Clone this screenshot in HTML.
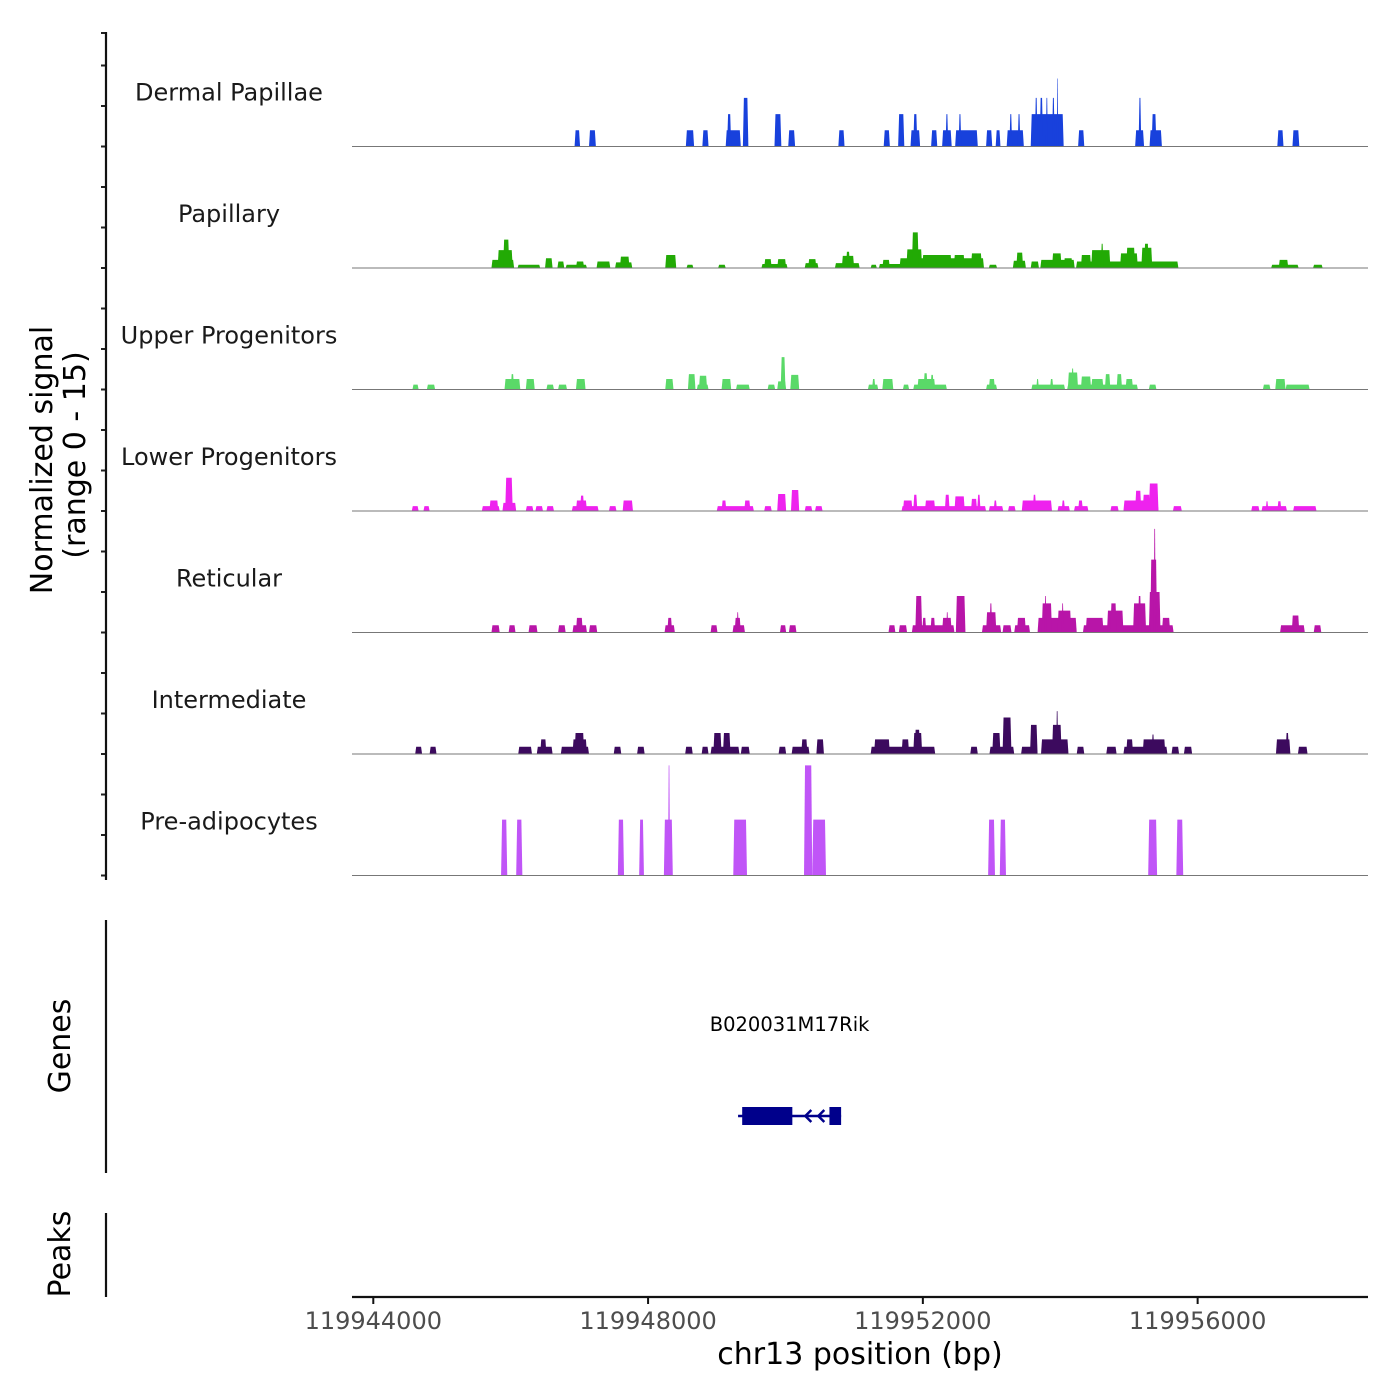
<!DOCTYPE html>
<html><head><meta charset="utf-8">
<style>
html,body{margin:0;padding:0;background:#fff;}
svg{display:block;font-family:"DejaVu Sans","Liberation Sans",sans-serif;}
</style></head>
<body>
<svg id="chart" width="1400" height="1400" viewBox="0 0 1400 1400" xmlns="http://www.w3.org/2000/svg">
<rect width="1400" height="1400" fill="#fff"/>
<g id="tracks"></g>
<g id="axes"></g>
<g id="genes"></g>
</svg>
<script>
// region start (kb) on chr13; all positions below are kb offsets from it
const regionStartKb = 119943.69;
const regionWidthKb = 14.79;
const trackNames = ["Dermal Papillae","Papillary","Upper Progenitors","Lower Progenitors","Reticular","Intermediate","Pre-adipocytes"];
const trackColors = ["#1841dc","#22aa05","#5ad968","#ee22ee","#b815a8","#3c0a5e","#c055f7"];
const xTickBp = [119944000,119948000,119952000,119956000];
const xTickLabels = ["119944000","119948000","119952000","119956000"];
// segments: [startKb, endKb, signal]
const dermalPapillae = [[3.24,3.32,2],[3.45,3.55,2],[4.86,4.98,2],[5.10,5.19,2],[5.44,5.66,2],[5.46,5.52,4],[5.69,5.77,6],[6.15,6.25,4],[6.35,6.45,2],[7.08,7.17,2],[7.74,7.83,2],[7.95,8.04,4],[8.13,8.27,2],[8.17,8.23,4],[8.43,8.52,2],[8.59,8.73,2],[8.64,8.68,4],[8.78,9.11,2],[8.83,8.87,4],[9.23,9.32,2],[9.37,9.44,2],[9.53,9.78,2],[9.57,9.61,4],[9.69,9.73,4],[9.88,10.36,4],[9.94,9.98,6],[10.01,10.06,6],[10.10,10.13,6],[10.19,10.23,6],[10.26,10.28,8.4],[10.57,10.66,2],[11.40,11.53,2],[11.45,11.49,6],[11.61,11.79,2],[11.64,11.71,4],[13.47,13.56,2],[13.69,13.79,2]];
const papillary = [[2.03,2.36,1.0],[2.12,2.34,2.2],[2.20,2.29,3.5],[2.41,2.74,0.4],[2.81,2.92,1.2],[2.99,3.09,0.8],[3.11,3.42,0.4],[3.26,3.38,0.8],[3.56,3.76,0.8],[3.83,4.08,0.7],[3.90,4.04,1.4],[4.56,4.72,1.6],[4.87,4.97,0.4],[5.33,5.44,0.4],[5.96,6.34,0.5],[6.00,6.11,1.1],[6.19,6.32,1.1],[6.59,6.79,0.6],[6.64,6.76,1.1],[7.03,7.39,0.6],[7.13,7.31,1.5],[7.19,7.25,2.0],[7.55,7.64,0.4],[7.67,8.02,0.5],[7.72,7.83,1.0],[7.97,9.20,1.2],[8.07,8.30,2.3],[8.15,8.25,4.4],[8.30,8.73,1.6],[8.76,8.92,1.6],[9.01,9.17,1.8],[9.27,9.39,0.4],[9.62,9.81,0.9],[9.67,9.77,1.9],[9.88,10.00,0.8],[10.02,10.52,1.0],[10.19,10.33,1.8],[10.36,10.49,1.2],[10.54,12.03,0.8],[10.61,10.76,1.6],[10.76,11.04,2.2],[10.90,10.94,3.0],[11.18,11.44,1.8],[11.27,11.40,2.5],[11.49,11.65,2.5],[11.53,11.60,3.0],[11.70,11.98,0.4],[13.38,13.78,0.4],[13.49,13.63,1.0],[13.99,14.13,0.4]];
const upperProgenitors = [[0.88,0.97,0.6],[1.09,1.21,0.6],[2.22,2.45,1.3],[2.31,2.36,1.9],[2.53,2.66,1.3],[2.83,2.94,0.6],[3.00,3.13,0.6],[3.26,3.40,1.3],[4.56,4.68,1.3],[4.89,5.00,1.9],[5.02,5.19,0.6],[5.05,5.17,1.7],[5.38,5.52,1.3],[5.59,5.79,0.6],[6.05,6.16,0.6],[6.19,6.32,1.0],[6.24,6.31,4.0],[6.38,6.51,1.8],[7.51,7.66,0.6],[7.57,7.62,1.3],[7.72,7.88,1.3],[8.02,8.11,0.6],[8.17,8.66,0.6],[8.23,8.49,1.3],[8.32,8.38,2.0],[8.42,8.47,1.8],[9.23,9.39,0.6],[9.27,9.36,1.3],[9.89,10.38,0.6],[9.96,10.00,1.3],[10.16,10.21,1.3],[10.41,11.44,0.6],[10.42,10.57,2.1],[10.47,10.51,2.6],[10.61,10.76,1.6],[10.76,10.94,1.3],[10.96,11.04,1.9],[11.13,11.21,1.9],[11.26,11.37,1.3],[11.60,11.71,0.6],[13.26,13.37,0.6],[13.44,13.59,1.3],[13.59,13.94,0.6]];
const lowerProgenitors = [[0.87,0.97,0.6],[1.04,1.13,0.6],[1.89,2.15,0.6],[2.00,2.13,1.3],[2.19,2.39,1.0],[2.23,2.34,4.1],[2.53,2.64,0.6],[2.67,2.78,0.6],[2.83,2.94,0.6],[3.20,3.59,0.6],[3.26,3.42,1.3],[3.32,3.38,1.9],[3.74,3.85,0.6],[3.94,4.09,1.3],[5.31,5.85,0.6],[5.38,5.45,1.3],[5.71,5.80,1.3],[6.00,6.11,0.6],[6.19,6.32,2.1],[6.39,6.51,2.6],[6.59,6.70,0.6],[6.74,6.85,0.6],[8.00,9.23,0.6],[8.02,8.16,1.3],[8.17,8.23,2.0],[8.34,8.49,1.3],[8.63,8.70,2.0],[8.77,8.92,1.8],[9.01,9.10,1.5],[9.10,9.15,2.0],[9.27,9.48,0.6],[9.34,9.39,1.3],[9.55,9.66,0.6],[9.75,10.19,1.3],[9.91,9.96,2.0],[10.27,10.45,0.6],[10.33,10.38,1.3],[10.51,10.72,0.6],[10.57,10.64,1.3],[11.04,11.16,0.6],[11.23,11.74,1.3],[11.40,11.49,2.5],[11.51,11.62,2.0],[11.60,11.74,3.4],[11.95,12.08,0.6],[13.09,13.21,0.6],[13.24,13.61,0.6],[13.30,13.34,1.2],[13.47,13.53,1.2],[13.70,14.04,0.6]];
const reticular = [[2.03,2.15,0.9],[2.28,2.38,0.9],[2.57,2.70,0.9],[3.00,3.11,0.9],[3.21,3.42,0.9],[3.26,3.36,1.8],[3.45,3.57,0.9],[4.55,4.70,0.9],[4.59,4.66,1.8],[5.22,5.32,0.9],[5.54,5.72,0.9],[5.57,5.66,1.8],[5.60,5.63,2.5],[6.23,6.32,0.9],[6.36,6.47,0.9],[7.81,7.91,0.9],[7.96,8.08,0.9],[8.15,8.77,0.9],[8.20,8.30,4.5],[8.30,8.36,1.8],[8.42,8.49,1.8],[8.59,8.73,1.8],[8.65,8.68,2.5],[8.79,8.93,4.5],[9.17,9.45,0.9],[9.23,9.38,2.5],[9.28,9.32,3.6],[9.47,9.60,0.9],[9.64,9.87,0.9],[9.68,9.81,1.8],[9.98,10.55,1.8],[10.04,10.19,3.6],[10.08,10.11,4.5],[10.27,10.47,2.7],[10.33,10.36,3.6],[10.64,11.96,0.9],[10.68,10.94,1.8],[10.99,11.23,2.7],[11.04,11.13,3.6],[11.37,11.56,3.6],[11.44,11.49,4.5],[11.60,11.77,5.0],[11.62,11.72,9.0],[11.67,11.70,12.8],[11.79,11.91,1.8],[13.51,13.87,0.9],[13.68,13.79,2.1],[14.00,14.11,0.9]];
const intermediate = [[0.92,1.02,0.9],[1.13,1.23,0.9],[2.42,2.62,0.9],[2.69,2.92,0.9],[2.74,2.83,1.8],[3.04,3.45,0.9],[3.21,3.42,1.8],[3.24,3.38,2.6],[3.81,3.92,0.9],[4.15,4.26,0.9],[4.85,4.96,0.9],[5.09,5.19,0.9],[5.22,5.64,0.9],[5.26,5.38,2.6],[5.40,5.51,2.6],[5.66,5.79,0.9],[6.21,6.32,0.9],[6.40,6.66,0.9],[6.54,6.63,1.8],[6.76,6.87,1.8],[7.55,8.49,0.9],[7.60,7.83,1.8],[8.00,8.11,1.8],[8.17,8.30,2.6],[8.19,8.27,3.0],[9.00,9.11,0.9],[9.28,9.64,0.9],[9.32,9.44,2.6],[9.47,9.60,4.5],[9.74,9.98,0.9],[9.87,9.98,3.6],[10.03,10.43,1.8],[10.19,10.33,3.6],[10.25,10.28,5.3],[10.55,10.66,0.9],[10.98,11.13,0.9],[11.23,11.87,0.9],[11.27,11.37,1.8],[11.51,11.84,1.8],[11.64,11.68,2.4],[11.93,12.04,0.9],[12.11,12.23,0.9],[13.45,13.66,1.8],[13.59,13.64,2.6],[13.77,13.91,0.9]];
const preAdipocytes = [[2.17,2.26,6.9],[2.39,2.48,6.9],[3.87,3.96,6.9],[4.18,4.25,6.9],[4.54,4.67,6.9],[4.60,4.63,13.6],[5.55,5.75,6.9],[6.58,6.70,13.6],[6.70,6.90,6.9],[9.26,9.36,6.9],[9.43,9.52,6.9],[11.59,11.72,6.9],[12.00,12.10,6.9]];
const trackData = [dermalPapillae,papillary,upperProgenitors,lowerProgenitors,reticular,intermediate,preAdipocytes];
const yMax = 15;
// gene model (kb offsets)
const geneName = "B020031M17Rik";
const geneStart = 5.62, geneEnd = 7.12;
const exonStarts = [5.68, 6.95];
const exonEnds = [6.41, 7.12];

const NS = "http://www.w3.org/2000/svg";
const X0 = 352, X1 = 1368;
const firstBaseline = 146.5, trackStep = 121.5, trackH = 121.5;
function xScale(kb){ return X0 + kb/regionWidthKb*(X1-X0); }
function bpToX(bp){ return xScale(bp/1000 - regionStartKb); }
function yScale(v, i){ return firstBaseline + i*trackStep - v/yMax*trackH; }
function mk(tag, attrs, parent){
  const e = document.createElementNS(NS, tag);
  for (const k in attrs) e.setAttribute(k, attrs[k]);
  parent.appendChild(e); return e;
}
const tracks = document.getElementById('tracks');
const axes = document.getElementById('axes');
const genes = document.getElementById('genes');

trackData.forEach((segs, i) => {
  const g = mk('g', {}, tracks);
  
  
  const base = yScale(0, i);
  segs.forEach(s => {
    const xa = xScale(s[0]), xb = xScale(s[1]), yt = yScale(s[2], i);
    const inset = Math.min(1, (xb-xa)/3);
    const p = mk('polygon', {points: `${xa},${base} ${xa+inset},${yt} ${xb-inset},${yt} ${xb},${base}`, fill: trackColors[i]}, g);
    
    
  });
  const bl = mk('line', {x1: X0, x2: X1, y1: base, y2: base, stroke: '#777', 'stroke-width': 1}, g);
  
  
  const t = mk('text', {x: 229, y: base - 46, 'text-anchor': 'middle', 'font-size': 24, fill: '#1a1a1a'}, g);
  t.textContent = trackNames[i];
  
  
  [0,5,10,15].forEach(v => {
    const y = Math.max(yScale(v, i), 33);
    const tk = mk('line', {x1: 101, x2: 106, y1: y, y2: y, stroke: '#222', 'stroke-width': 2}, axes);
    
    
  });
});

[[32,880,'signal-y-axis'],[920,1173,'genes-y-axis'],[1213,1297,'peaks-y-axis']].forEach(a => {
  const l = mk('line', {x1: 106, x2: 106, y1: a[0], y2: a[1], stroke: '#111', 'stroke-width': 2.2}, axes);
  
  
});
const yt1 = mk('text', {transform: 'translate(52,460) rotate(-90)', 'text-anchor': 'middle', 'font-size': 30, fill: '#000'}, axes);
yt1.textContent = 'Normalized signal';


const yt2 = mk('text', {transform: 'translate(85,455) rotate(-90)', 'text-anchor': 'middle', 'font-size': 30, fill: '#000'}, axes);
yt2.textContent = '(range 0 - 15)';


const gt = mk('text', {transform: 'translate(70,1046) rotate(-90)', 'text-anchor': 'middle', 'font-size': 30, fill: '#000'}, axes);
gt.textContent = 'Genes';


const pt = mk('text', {transform: 'translate(70,1254) rotate(-90)', 'text-anchor': 'middle', 'font-size': 30, fill: '#000'}, axes);
pt.textContent = 'Peaks';



const xa = mk('line', {x1: X0, x2: X1, y1: 1297, y2: 1297, stroke: '#111', 'stroke-width': 2.2}, axes);


xTickBp.forEach((bp, k) => {
  const x = bpToX(bp);
  const tk = mk('line', {x1: x, x2: x, y1: 1297, y2: 1304, stroke: '#111', 'stroke-width': 2}, axes);
  
  
  const tl = mk('text', {x: x, y: 1329, 'text-anchor': 'middle', 'font-size': 24, fill: '#4d4d4d'}, axes);
  tl.textContent = xTickLabels[k];
  
  
});
const xt = mk('text', {x: 860, y: 1364, 'text-anchor': 'middle', 'font-size': 30, fill: '#000'}, axes);
xt.textContent = 'chr13 position (bp)';



const gl = mk('text', {x: (xScale(geneStart)+xScale(geneEnd))/2, y: 1031, 'text-anchor': 'middle', 'font-size': 19.5, fill: '#000'}, genes);
gl.textContent = geneName;


const intron = mk('line', {x1: xScale(geneStart), x2: xScale(geneEnd), y1: 1116, y2: 1116, stroke: '#00008b', 'stroke-width': 2.5}, genes);


exonStarts.forEach((s, k) => {
  const r = mk('rect', {x: xScale(s), y: 1107, width: xScale(exonEnds[k]) - xScale(s), height: 18, fill: '#00008b'}, genes);
  
  
});
[0.35, 0.7].forEach(f => {
  const ax = xScale(exonEnds[0]) + f*(xScale(exonStarts[1]) - xScale(exonEnds[0]));
  const ar = mk('polyline', {points: `${ax+6},${1110} ${ax},${1116} ${ax+6},${1122}`, fill: 'none', stroke: '#00008b', 'stroke-width': 2.5}, genes);
  
  
});
</script>
</body></html>
